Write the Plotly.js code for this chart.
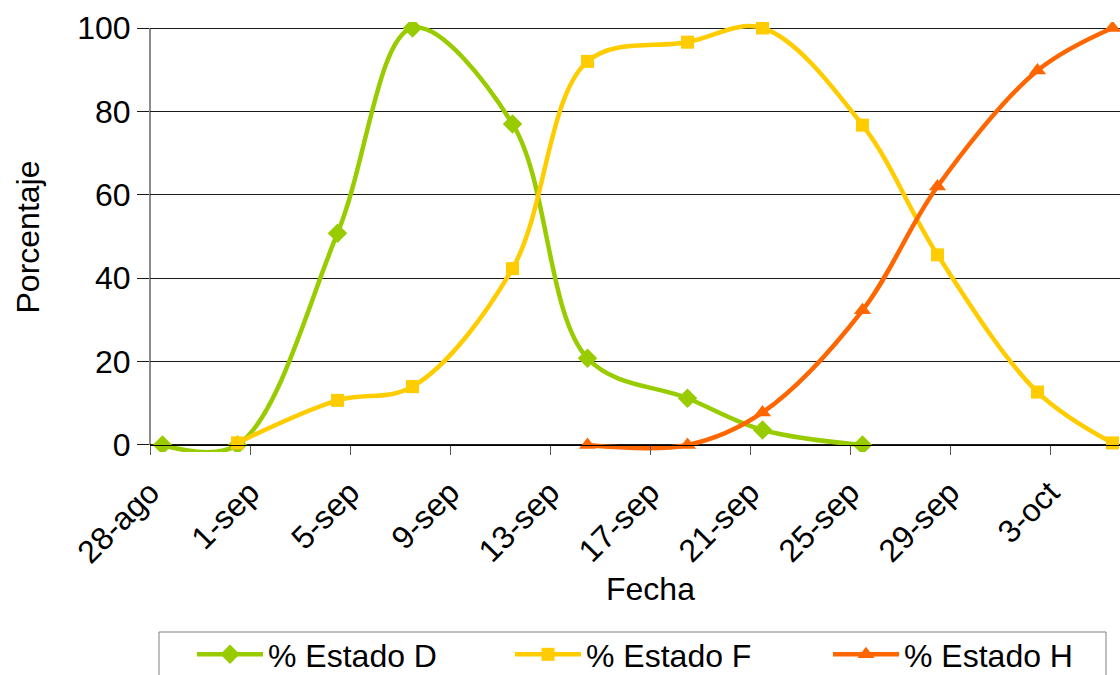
<!DOCTYPE html>
<html>
<head>
<meta charset="utf-8">
<script src="https://cdn.plot.ly/plotly-3.0.1.min.js"></script>
<style>
  html, body { margin: 0; padding: 0; background: #ffffff; overflow: hidden; }
  #chart { width: 1120px; height: 675px; }
</style>
</head>
<body>
<div id="chart"></div>
<script>
// Sampling dates and percentages for each phenological stage
const fechasD = ['2008-08-28','2008-08-31','2008-09-04','2008-09-07','2008-09-11','2008-09-14','2008-09-18','2008-09-21','2008-09-25'];
const estadoD = [0, 0, 50.8, 100, 77, 20.8, 11.2, 3.6, 0];

const fechasF = ['2008-08-31','2008-09-04','2008-09-07','2008-09-11','2008-09-14','2008-09-18','2008-09-21','2008-09-25','2008-09-28','2008-10-02','2008-10-05'];
const estadoF = [0.5, 10.7, 14, 42.3, 92, 96.6, 100, 76.7, 45.6, 12.7, 0.5];

const fechasH = ['2008-09-14','2008-09-18','2008-09-21','2008-09-25','2008-09-28','2008-10-02','2008-10-05'];
const estadoH = [0, 0, 7.8, 32.3, 62, 89.8, 100];

// Date axis labels
const tickFechas = ['2008-08-28','2008-09-01','2008-09-05','2008-09-09','2008-09-13','2008-09-17','2008-09-21','2008-09-25','2008-09-29','2008-10-03'];
const tickTextos = ['28-ago','1-sep','5-sep','9-sep','13-sep','17-sep','21-sep','25-sep','29-sep','3-oct'];

const nombres = ['% Estado D', '% Estado F', '% Estado H'];
const colores = ['#99CC00', '#FFCC00', '#FF6600'];
const simbolos = ['diamond', 'square', 'triangle-up'];
const tamanos = [15, 13, 15];

// Each day occupies one slot; points sit mid-slot, ticks mark the slot boundary
function shiftHours(d, h) {
  const t = new Date(d + 'T00:00:00Z').getTime() + h * 3600 * 1000;
  return new Date(t).toISOString().replace('T', ' ').slice(0, 19);
}

const series = [[fechasD, estadoD], [fechasF, estadoF], [fechasH, estadoH]];
const traces = series.map((s, i) => ({
  type: 'scatter',
  mode: 'lines+markers',
  name: nombres[i],
  x: s[0],
  y: s[1],
  line: { color: colores[i], width: 4.5, shape: 'spline', smoothing: 1 },
  marker: { color: colores[i], symbol: simbolos[i], size: tamanos[i] },
  cliponaxis: true
}));

const yMin = -1.68, yMax = 101.44;
const font = { family: '"Liberation Sans", Arial, sans-serif', color: '#000000', size: 32 };

// Plot area spans y = 22..452 px; helpers convert pixel positions to paper units
const plotTop = 22, plotBottom = 452;
const paperY = px => (plotBottom - px) / (plotBottom - plotTop);
const paperX = px => (px - 150) / 970;

const layout = {
  width: 1120,
  height: 675,
  margin: { l: 150, r: 0, t: plotTop, b: 675 - plotBottom, pad: 0, autoexpand: false },
  paper_bgcolor: '#ffffff',
  plot_bgcolor: '#ffffff',
  font: font,
  showlegend: true,
  xaxis: {
    type: 'date',
    range: [shiftHours('2008-08-28', -12), shiftHours('2008-10-05', 7.2)],
    anchor: 'free',
    position: (0 - yMin) / (yMax - yMin),
    showline: true,
    linecolor: '#000000',
    linewidth: 1,
    showgrid: false,
    zeroline: false,
    ticks: 'outside',
    ticklen: 9,
    tickwidth: 1,
    tickcolor: '#555555',
    tickmode: 'array',
    tickvals: tickFechas.map(d => shiftHours(d, -12)),
    ticktext: tickTextos,
    tickangle: -45,
    ticklabelstandoff: 6,
    tickfont: font,
    automargin: false
  },
  yaxis: {
    range: [yMin, yMax],
    tickmode: 'array',
    tickvals: [0, 20, 40, 60, 80, 100],
    ticktext: ['0', '20', '40', '60', '80', '100'],
    showline: false,
    showgrid: true,
    gridcolor: '#1a1a1a',
    gridwidth: 1,
    zeroline: false,
    ticks: 'outside',
    ticklen: 12,
    tickwidth: 1,
    tickcolor: '#1a1a1a',
    tickfont: font,
    automargin: false,
    title: { text: 'Porcentaje', font: font, standoff: 28 }
  },
  shapes: [
    // vertical value axis from 0 to 100
    { type: 'line', xref: 'paper', yref: 'y', x0: 0, x1: 0, y0: 0, y1: 100,
      line: { color: '#1a1a1a', width: 1 } },
    // legend frame
    { type: 'rect', xref: 'paper', yref: 'paper', x0: paperX(159), x1: paperX(1106),
      y0: paperY(632), y1: paperY(700), line: { color: '#808080', width: 1 }, fillcolor: 'rgba(0,0,0,0)' }
  ],
  annotations: [
    { text: 'Fecha', xref: 'paper', yref: 'paper', x: paperX(650), y: paperY(589),
      xanchor: 'center', yanchor: 'middle', showarrow: false, font: font }
  ],
  legend: {
    orientation: 'h',
    x: paperX(192),
    xanchor: 'left',
    y: paperY(627),
    yanchor: 'top',
    borderwidth: 0,
    bgcolor: 'rgba(0,0,0,0)',
    font: font,
    itemwidth: 66,
    entrywidth: 237,
    entrywidthmode: 'pixels',
    traceorder: 'normal'
  }
};

Plotly.newPlot('chart', traces, layout, { staticPlot: true, displayModeBar: false });
</script>
</body>
</html>
